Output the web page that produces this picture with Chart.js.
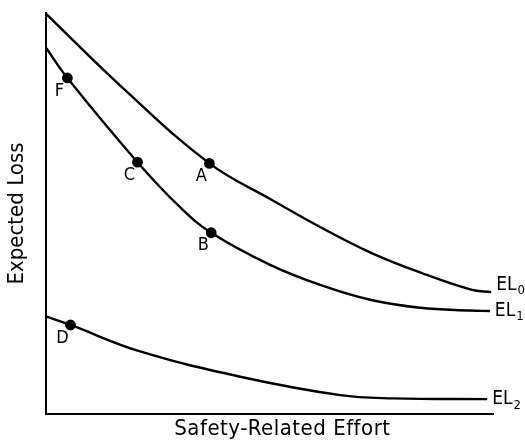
<!DOCTYPE html>
<html>
<head>
<meta charset="utf-8">
<script src="https://cdn.jsdelivr.net/npm/chart.js@4"></script>
<style>
  body { margin: 0; background: #fff; }
  #chart { display: block; }
</style>
</head>
<body>
<canvas id="chart" width="525" height="440"></canvas>
<script>
// curve names shown at the right end of each line
var curveNames = ['EL0', 'EL1', 'EL2'];

// EL0
var effort0 = [0, 17.2, 36.5, 50.3, 61.5, 72.7, 83.9, 95.1, 99.6];
var loss0   = [99.7, 81.2, 62.5, 53.5, 46.5, 40.2, 35.2, 31.0, 30.4];
var marks0  = ['', '', 'A', '', '', '', '', '', ''];

// EL1
var effort1 = [0, 4.7, 20.4, 30.0, 36.9, 50.1, 61.3, 72.5, 83.7, 94.9, 99.3];
var loss1   = [91.2, 83.8, 62.8, 51.5, 45.2, 37.2, 32.2, 28.5, 26.5, 25.8, 25.7];
var marks1  = ['', 'F', 'C', '', 'B', '', '', '', '', '', ''];

// EL2
var effort2 = [0, 5.4, 21.0, 43.4, 65.8, 77.6, 98.7];
var loss2   = [24.3, 22.2, 15.6, 9.3, 4.7, 3.9, 3.7];
var marks2  = ['', 'D', '', '', '', '', ''];

var axisTitleX = 'Safety-Related Effort';
var axisTitleY = 'Expected Loss';

var fontFamily = "'DejaVu Sans Condensed', 'Liberation Sans Narrow', 'DejaVu Sans', sans-serif";

function makeSet(name, xs, ys, marks) {
  var pts = [];
  for (var i = 0; i < xs.length; i++) {
    pts.push({ x: xs[i], y: ys[i] });
  }
  return {
    label: name,
    data: pts,
    marks: marks,
    borderColor: '#000',
    backgroundColor: '#000',
    borderWidth: 2.4,
    pointRadius: marks.map(function(m) { return m ? 4.2 : 0; }),
    pointHoverRadius: 0,
    tension: 0.4,
    fill: false
  };
}

// letters beside the dots, EL names at line ends, and the x axis title
var labelPlugin = {
  id: 'curveLabels',
  afterDatasetsDraw: function(chart) {
    var ctx = chart.ctx;
    ctx.save();
    ctx.fillStyle = '#000';
    chart.data.datasets.forEach(function(ds, di) {
      var meta = chart.getDatasetMeta(di);
      // point letters
      ctx.font = '18px ' + fontFamily;
      ctx.textAlign = 'center';
      ctx.textBaseline = 'middle';
      ds.marks.forEach(function(m, i) {
        if (!m) return;
        var p = meta.data[i];
        ctx.fillText(m, p.x - 8, p.y + 13);
      });
      // curve name with subscript
      var last = meta.data[meta.data.length - 1];
      var name = curveNames[di];
      var lx = last.x + 5;
      var ly = last.y + (di === 0 ? -7 : 0);
      ctx.textAlign = 'left';
      ctx.font = '19px ' + fontFamily;
      var main = name.slice(0, 2);
      ctx.fillText(main, lx, ly);
      var w = ctx.measureText(main).width;
      ctx.font = '13px ' + fontFamily;
      ctx.fillText(name.slice(2), lx + w + 1, ly + 6);
    });
    // x axis title, a bit right of centre like the original
    var area = chart.chartArea;
    ctx.font = '22px ' + fontFamily;
    ctx.letterSpacing = '0.5px';
    ctx.textAlign = 'center';
    ctx.textBaseline = 'middle';
    ctx.fillText(axisTitleX, area.left + 236, area.bottom + 15);
    ctx.restore();
  }
};

var ctx = document.getElementById('chart');
var chart = new Chart(ctx, {
  type: 'line',
  data: {
    datasets: [
      makeSet(curveNames[0], effort0, loss0, marks0),
      makeSet(curveNames[1], effort1, loss1, marks1),
      makeSet(curveNames[2], effort2, loss2, marks2)
    ]
  },
  options: {
    responsive: false,
    animation: false,
    layout: { padding: { left: 3, top: 13, right: 32, bottom: 26 } },
    plugins: {
      legend: { display: false },
      tooltip: { enabled: false }
    },
    scales: {
      x: {
        type: 'linear',
        min: 0,
        max: 100,
        grid: { display: false, drawTicks: false },
        border: { display: true, color: '#000', width: 2 },
        ticks: { display: false },
        title: { display: false }
      },
      y: {
        type: 'linear',
        min: 0,
        max: 100,
        grid: { display: false, drawTicks: false },
        border: { display: true, color: '#000', width: 2 },
        ticks: { display: false },
        title: {
          display: true,
          text: axisTitleY,
          color: '#000',
          font: { family: fontFamily, size: 22 },
          padding: { top: 1, bottom: 16 }
        }
      }
    }
  },
  plugins: [labelPlugin]
});
</script>
</body>
</html>
